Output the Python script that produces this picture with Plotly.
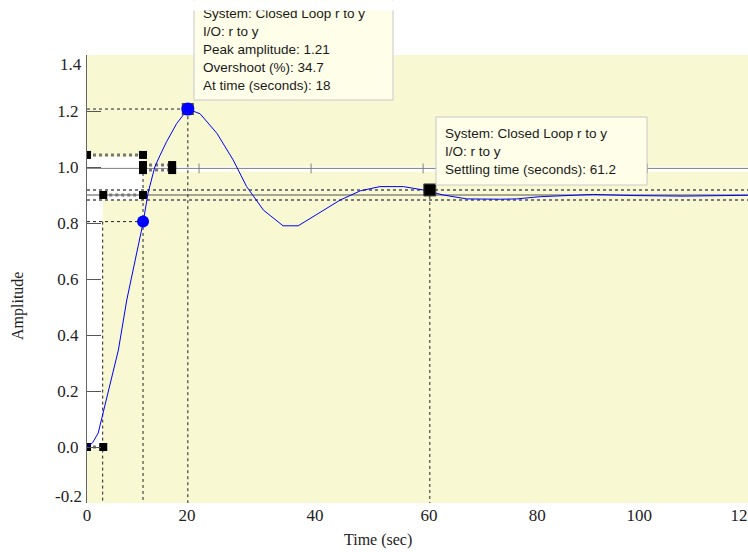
import plotly.graph_objects as go

# ---------------- data ----------------
time_s = [0, 1, 2, 2.7, 4.1, 5.6, 7.1, 8.6, 10, 10.9, 12.1, 13, 14.2, 16, 18,
          20.2, 23.2, 26.1, 28.5, 31.5, 35, 37.7, 41, 45.2, 48.8, 52.3, 56.5,
          60, 63.6, 67.8, 73.8, 76.7, 80.9, 90.4, 97.5, 106.4, 118]
amplitude = [0, 0.015, 0.05, 0.108, 0.23, 0.346, 0.525, 0.668, 0.80, 0.907, 1.0,
             1.04, 1.09, 1.155, 1.207, 1.19, 1.12, 1.025, 0.93, 0.846, 0.79,
             0.79, 0.83, 0.882, 0.915, 0.93, 0.93, 0.918, 0.9, 0.886, 0.885,
             0.886, 0.894, 0.902, 0.898, 0.896, 0.899]

peak_time = 18
peak_amp = 1.207
rise_start_time = 2.8
rise_end_time = 10
rise_end_amp = 0.805
settling_time = 61.2
settling_amp = 0.918
steady_state = 0.9
band_upper = 0.918
band_lower = 0.882
unit_line_level = 0.995
unit_line_ticks = [20, 40, 60, 80, 100]

# data-tip handle pairs: (x0, x1, y)
handles_x0 = [0, 10, 10, 2.9, 0]
handles_x1 = [10, 15.2, 15.2, 10, 2.9]
handles_y = [1.043, 1.007, 0.989, 0.9, 0.0]

x_tick_text = ["0", "20", "40", "60", "80", "100", "120"]
y_tick_vals = [0.0, 0.2, 0.4, 0.6, 0.8, 1.0, 1.2]
y_tick_text = ["0.0", "0.2", "0.4", "0.6", "0.8", "1.0", "1.2"]
y_end_text = ["-0.2", "1.4"]

peak_tip_lines = ["System: Closed Loop r to y", "I/O: r to y",
                  "Peak amplitude: 1.21", "Overshoot (%): 34.7",
                  "At time (seconds): 18"]
settle_tip_lines = ["System: Closed Loop r to y", "I/O: r to y",
                    "Settling time (seconds): 61.2"]

# ---------------- layout constants ----------------
W, H = 748, 552
ML, MR, MT, MB = 87, 0, 55, 49
PW, PH = W - ML - MR, H - MT - MB
X_RANGE = [0, 118]
Y_RANGE = [-0.2, 1.4]
x_tick_pos = [0, 17.86, 40.7, 61.07, 80.36, 98.57, 117.14]
y_end_pos = [-0.176, 1.366]

def px(x):
    return (x - ML) / PW

def py(y):
    return (H - MB - y) / PH

SERIF = "Times New Roman, Liberation Serif, serif"
SANS = "Arial, Liberation Sans, sans-serif"
PLOT_BG = "#F8F8D3"
TIP_BG = "#FFFFE9"
Y_BOT = Y_RANGE[0]

fig = go.Figure()

# white patches inside plot area
shapes = [
    dict(type="rect", xref="x", yref="y", x0=0, x1=rise_end_time, y0=band_lower, y1=1.036,
         fillcolor="white", line_width=0, layer="below"),
    dict(type="rect", xref="x", yref="y", x0=0, x1=rise_start_time, y0=0, y1=band_lower,
         fillcolor="white", line_width=0, layer="below"),
    dict(type="rect", xref="x", yref="y", x0=rise_end_time, x1=X_RANGE[1], y0=0.983, y1=1.002,
         fillcolor="white", line_width=0, layer="below"),
]

# horizontal reference lines
fig.add_trace(go.Scatter(x=X_RANGE, y=[unit_line_level] * 2, mode="lines",
                         line=dict(color="#808080", width=1), hoverinfo="skip"))
fig.add_trace(go.Scatter(x=unit_line_ticks, y=[unit_line_level] * len(unit_line_ticks),
                         mode="markers", marker=dict(symbol="line-ns-open", size=7, color="#808080",
                                                     line=dict(color="#808080", width=1)),
                         hoverinfo="skip"))
fig.add_trace(go.Scatter(x=X_RANGE, y=[steady_state] * 2, mode="lines",
                         line=dict(color="#555555", width=1), hoverinfo="skip"))
for lvl in (band_upper, band_lower):
    fig.add_trace(go.Scatter(x=X_RANGE, y=[lvl] * 2, mode="lines",
                             line=dict(color="#7a7a7a", width=2, dash="dot"), hoverinfo="skip"))

# characteristic guide lines (black dotted)
guide = dict(color="#222222", width=1, dash="dot")
fig.add_trace(go.Scatter(x=[0, peak_time, peak_time], y=[peak_amp, peak_amp, Y_BOT],
                         mode="lines", line=guide, hoverinfo="skip"))
fig.add_trace(go.Scatter(x=[0, rise_end_time], y=[rise_end_amp, rise_end_amp],
                         mode="lines", line=guide, hoverinfo="skip"))
fig.add_trace(go.Scatter(x=[rise_start_time, rise_start_time], y=[rise_end_amp, Y_BOT],
                         mode="lines", line=guide, hoverinfo="skip"))
fig.add_trace(go.Scatter(x=[rise_end_time, rise_end_time], y=[handles_y[0], Y_BOT],
                         mode="lines", line=guide, hoverinfo="skip"))
fig.add_trace(go.Scatter(x=[settling_time, settling_time], y=[settling_amp, Y_BOT],
                         mode="lines", line=guide, hoverinfo="skip"))

# data-tip handles
for x0, x1, yv in zip(handles_x0, handles_x1, handles_y):
    fig.add_trace(go.Scatter(x=[x0, x1], y=[yv, yv], mode="lines+markers",
                             line=dict(color="#777777", width=3, dash="dot"),
                             marker=dict(symbol="square", size=8, color="black"),
                             hoverinfo="skip"))

# step response
fig.add_trace(go.Scatter(x=time_s, y=amplitude, mode="lines",
                         line=dict(color="#0000FF", width=1), hoverinfo="skip"))

# characteristic markers
fig.add_trace(go.Scatter(x=[peak_time], y=[peak_amp], mode="markers",
                         marker=dict(symbol="square", size=12, color="#444444"), hoverinfo="skip"))
fig.add_trace(go.Scatter(x=[peak_time], y=[peak_amp], mode="markers",
                         marker=dict(symbol="circle", size=13, color="#0000FF"), hoverinfo="skip"))
fig.add_trace(go.Scatter(x=[rise_end_time], y=[rise_end_amp], mode="markers",
                         marker=dict(symbol="circle", size=12, color="#0000FF"), hoverinfo="skip"))
fig.add_trace(go.Scatter(x=[settling_time], y=[settling_amp], mode="markers",
                         marker=dict(symbol="square", size=12, color="black",
                                     line=dict(color="#444444", width=1)), hoverinfo="skip"))

# tooltip boxes
shapes += [
    dict(type="rect", xref="paper", yref="paper", x0=px(194), x1=px(393), y0=py(100), y1=py(-6),
         fillcolor=TIP_BG, line=dict(color="#c8c8c8", width=1), layer="above"),
    dict(type="rect", xref="paper", yref="paper", x0=px(436), x1=px(647), y0=py(185), y1=py(117),
         fillcolor=TIP_BG, line=dict(color="#c8c8c8", width=1), layer="above"),
]

annotations = []
for i, t in enumerate(peak_tip_lines):
    annotations.append(dict(xref="paper", yref="paper", x=px(201), y=py(14 + i * 17.9),
                            xanchor="left", yanchor="middle", text=t, showarrow=False,
                            font=dict(family=SANS, size=13.5, color="#1a1a1a")))
for i, t in enumerate(settle_tip_lines):
    annotations.append(dict(xref="paper", yref="paper", x=px(443), y=py(133 + i * 18),
                            xanchor="left", yanchor="middle", text=t, showarrow=False,
                            font=dict(family=SANS, size=13.5, color="#1a1a1a")))
# end labels of the y axis
for t, v in zip(y_end_text, y_end_pos):
    annotations.append(dict(xref="paper", yref="y", x=0, y=v, xanchor="right", yanchor="middle",
                            xshift=-4, text=t, showarrow=False, borderpad=0,
                            font=dict(family=SERIF, size=17, color="#222")))
# white strip across the very top that hides the top of the first tooltip
annotations.append(dict(xref="paper", yref="paper", x=px(W / 2), y=py(0), xanchor="center",
                        yanchor="top", text=" ", showarrow=False, width=W, height=9,
                        bgcolor="white", borderpad=0, font=dict(size=6)))
annotations.append(dict(xref="paper", yref="paper", x=px(378), y=py(540), text="Time (sec)",
                        showarrow=False, xanchor="center", yanchor="middle",
                        font=dict(family=SERIF, size=16, color="#222")))
annotations.append(dict(xref="paper", yref="paper", x=px(18), y=py(306), text="Amplitude",
                        showarrow=False, textangle=-90, xanchor="center", yanchor="middle",
                        font=dict(family=SERIF, size=16, color="#222")))

fig.update_layout(
    width=W, height=H, autosize=False,
    margin=dict(l=ML, r=MR, t=MT, b=MB, pad=0, autoexpand=False),
    paper_bgcolor="white", plot_bgcolor=PLOT_BG,
    showlegend=False, shapes=shapes, annotations=annotations,
    xaxis=dict(range=X_RANGE, tickvals=x_tick_pos, ticktext=x_tick_text,
               showgrid=False, zeroline=False, showline=False, ticks="",
               ticklabeloverflow="allow", automargin=False,
               tickfont=dict(family=SERIF, size=17, color="#222")),
    yaxis=dict(range=Y_RANGE, tickvals=y_tick_vals, ticktext=y_tick_text,
               showgrid=False, zeroline=False, showline=True, linecolor="#666", linewidth=1,
               ticks="inside", ticklen=14, tickcolor="#555", ticklabelstandoff=4,
               automargin=False,
               tickfont=dict(family=SERIF, size=17, color="#222")),
)

fig.write_html("out.html", config={"displayModeBar": False},
               post_script="document.body.style.margin='0';document.body.style.overflow='hidden';")
